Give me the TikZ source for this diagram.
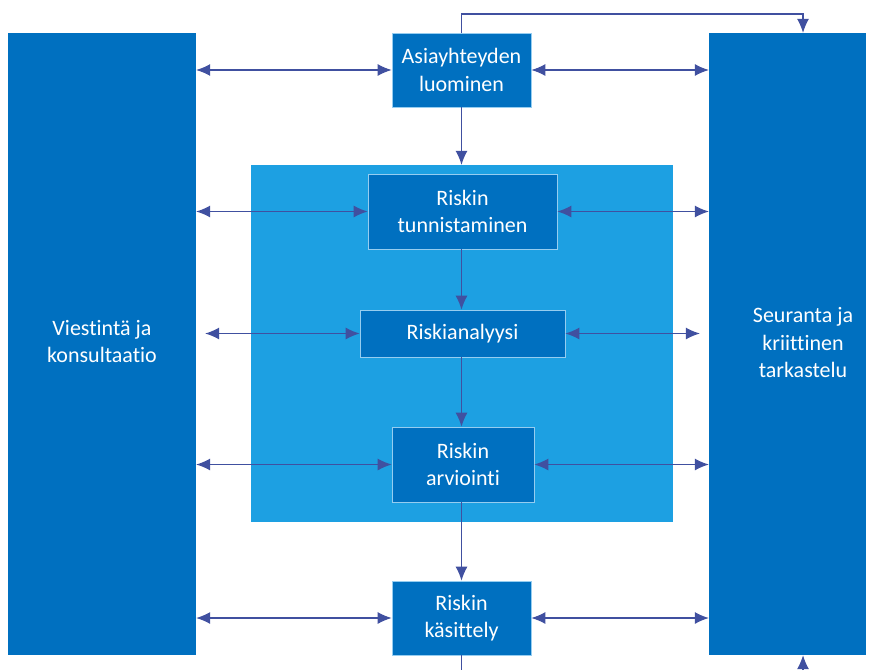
\documentclass[tikz,border=0pt]{standalone}
\usepackage{fontspec}
\setmainfont{Carlito}[Ligatures=NoCommon]
\usetikzlibrary{arrows.meta}
\definecolor{tummasininen}{RGB}{0,112,192}
\definecolor{vaaleasininen}{RGB}{29,160,226}
\definecolor{nuolensini}{RGB}{64,80,160}
\definecolor{reuna}{RGB}{150,205,240}
\begin{document}
\begin{tikzpicture}[x=1pt, y=-1pt, >={Latex[length=14pt,width=12pt]},
    teksti/.style={text=white, align=center, font=\fontsize{22}{27.5}\selectfont, inner sep=0pt},
    iso/.style={fill=tummasininen, inner sep=0pt},
    vaihe/.style={teksti, fill=tummasininen, draw=reuna, line width=0.8pt},
    yhteys/.style={<->, draw=nuolensini, line width=1.1pt},
    kulku/.style={->, draw=nuolensini, line width=1.1pt}]
\useasboundingbox (0,0) rectangle (882,670);
% reunapalkit ja keskialue
\node[iso, minimum width=188pt, minimum height=622pt] (vies) at (102,344) {};
\node[teksti] (viesteksti) at (102,341.5) {Viestintä ja\\konsultaatio};
\node[iso, minimum width=157pt, minimum height=622pt] (seur) at (787.5,344) {};
\node[teksti] (seurteksti) at (803,343) {Seuranta ja\\kriittinen\\tarkastelu};
\node[fill=vaaleasininen, inner sep=0pt, minimum width=422pt, minimum height=357pt] (alue) at (462,343.5) {};
% vaiheet
\node[vaihe, minimum width=139pt, minimum height=74pt] (asia) at (461.5,70) {Asiayhteyden\\luominen};
\node[vaihe, minimum width=189pt, minimum height=75pt] (tunn) at (462.5,211.5) {Riskin\\tunnistaminen};
\node[vaihe, minimum width=205pt, minimum height=47pt] (anal) at (462.5,333.5) {Riskianalyysi};
\node[vaihe, minimum width=142pt, minimum height=75pt] (arvi) at (463,464.5) {Riskin\\arviointi};
\node[vaihe, minimum width=139pt, minimum height=74pt] (kasi) at (461.5,618) {Riskin\\käsittely};
% pystysuuntainen kulku
\draw[kulku] (asia.south) -- (asia.south |- alue.north);
\draw[kulku] (tunn.south -| asia.south) -- (anal.north -| asia.south);
\draw[kulku] (anal.south -| asia.south) -- (arvi.north -| asia.south);
\draw[kulku] (arvi.south -| asia.south) -- (kasi.north -| asia.south);
% vaakasuuntaiset yhteydet
\foreach \v in {asia,tunn,arvi,kasi}
{
    \draw[yhteys] (\v.west -| vies.east) -- (\v.west);
    \draw[yhteys] (\v.east) -- (\v.east -| seur.west);
}
\draw[yhteys, shorten <=9pt] (anal.west -| vies.east) -- (anal.west);
\draw[yhteys, shorten >=9pt] (anal.east) -- (anal.east -| seur.west);
% palautesilmukka
\coordinate (yla) at (803,14);
\coordinate (alavasen) at (461.5,670);
\coordinate (alaoik) at (803,670);
\draw[kulku] (asia.north) |- (yla) -- (yla |- seur.north);
\draw[draw=nuolensini, line width=1.1pt] (kasi.south) -- (alavasen);
\draw[kulku] (alaoik) -- (alaoik |- seur.south);
\end{tikzpicture}
\end{document}
